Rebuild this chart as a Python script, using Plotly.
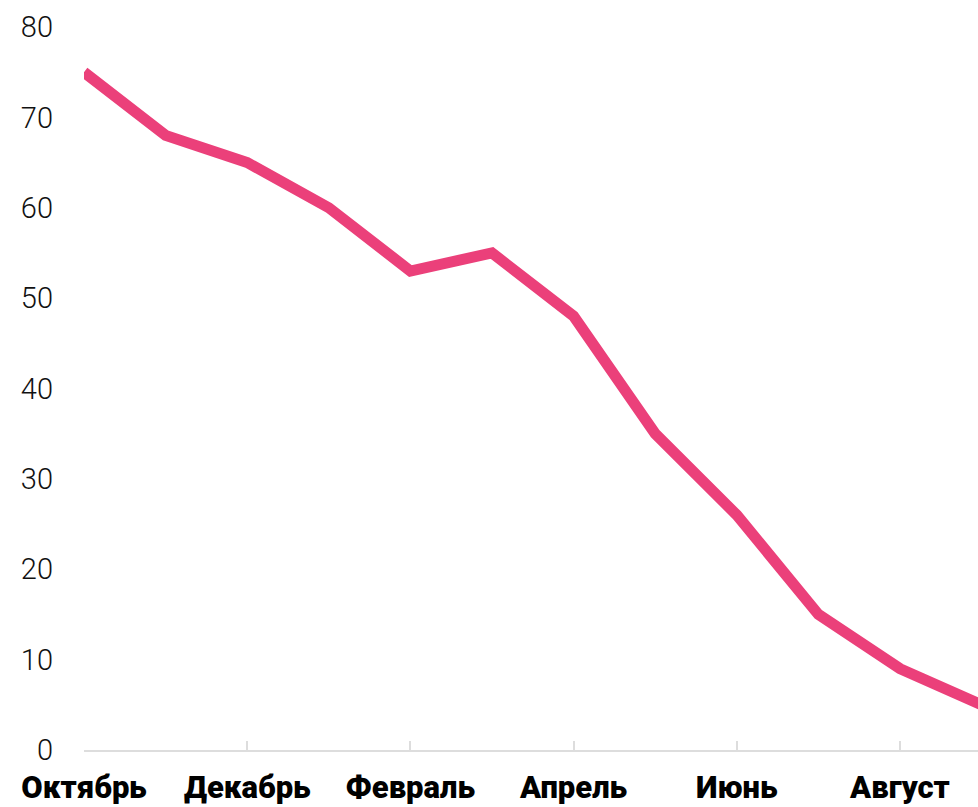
import plotly.graph_objects as go

months = ["Октябрь", "Ноябрь", "Декабрь", "Январь", "Февраль", "Март",
          "Апрель", "Май", "Июнь", "Июль", "Август", "Сентябрь"]
values = [75, 68, 65, 60, 53, 55, 48, 35, 26, 15, 9, 5]
tick_months = months[::2]
y_ticks = [0, 10, 20, 30, 40, 50, 60, 70, 80]

fig = go.Figure()
fig.add_trace(go.Scatter(
    x=list(range(len(months))), y=values, mode="lines",
    line=dict(color="#EB407A", width=11),
    hoverinfo="skip", showlegend=False,
))

fig.update_layout(
    width=978, height=807,
    margin=dict(l=84, r=0, t=27, b=57),
    paper_bgcolor="white", plot_bgcolor="white",
    xaxis=dict(
        range=[0, 10.956],
        automargin=False,
        tickvals=[months.index(m) for m in tick_months],
        ticktext=tick_months,
        showgrid=False, zeroline=False,
        showline=True, linecolor="#DDDDDD", linewidth=2,
        ticks="inside", ticklen=9, tickwidth=2, tickcolor="#DDDDDD",
        tickfont=dict(family="Roboto", size=31, color="#000000", weight=900),
        ticklabelstandoff=9,
    ),
    yaxis=dict(
        range=[0, 80],
        automargin=False,
        tickvals=y_ticks,
        showgrid=False, zeroline=False, showline=False,
        ticks="",
        tickfont=dict(family="Roboto", size=29, color="#111111", weight=300),
        ticklabelstandoff=30,
    ),
)

fig.write_html("out.html")
